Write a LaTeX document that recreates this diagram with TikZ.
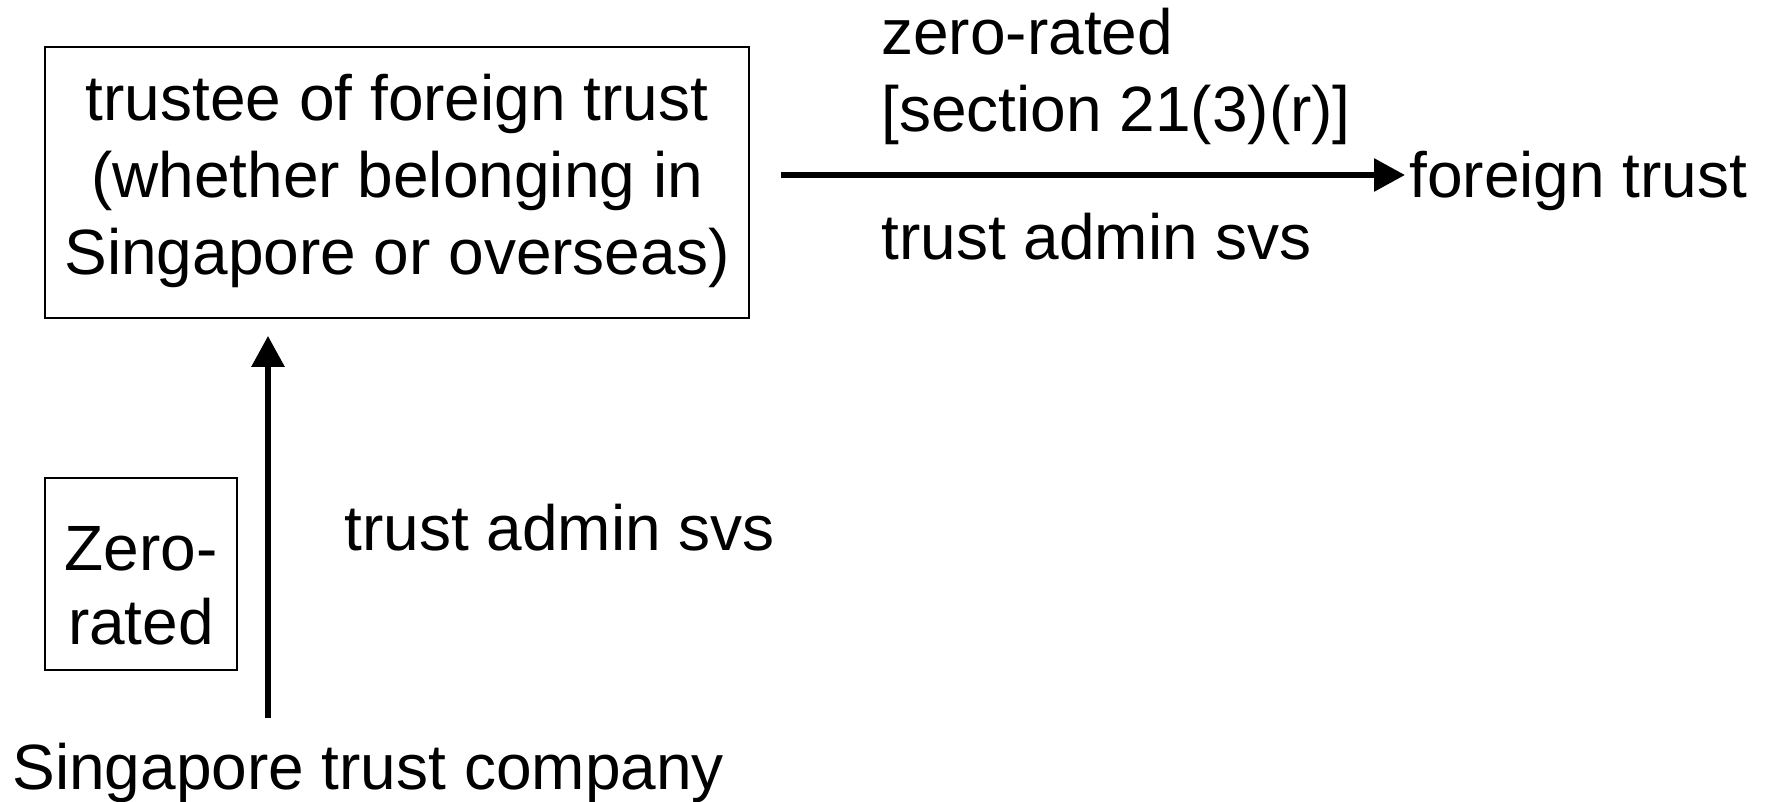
\documentclass[tikz,border=0pt]{standalone}
\usepackage{fontspec}
\setmainfont{Liberation Sans}
\usetikzlibrary{arrows.meta}
\begin{document}
\begin{tikzpicture}[x = 0.5pt, y = -0.5pt,
        font = \fontsize{32}{37}\selectfont,
        frame/.style = {draw, line width = 0.9pt, align = center, inner sep = 0pt},
        tag/.style   = {anchor = base west, inner sep = 0pt, align = left},
        flow/.style  = {line width = 3pt, -{Triangle[length = 15.5pt, width = 16pt]}}]
        \useasboundingbox (0,0) rectangle (1767,802);
        \coordinate (upfoot)    at (268,718);
        \coordinate (rightfoot) at (781,175);
        \node[frame, minimum width = 352pt, minimum height = 135.5pt,
              font = \fontsize{32}{38.5}\selectfont,
              text height = 100.5pt, text depth = 8pt] (trustee) at (397,182.5)
                {trustee of foreign trust\\(whether belonging in\\Singapore or overseas)};
        \node[frame, minimum width = 96pt, minimum height = 96pt,
              text height = 78pt, text depth = 8pt] (zero) at (141,574) {Zero-\\rated};
        \node[tag] (foreign)    at (1409,198) {foreign trust};
        \node[tag] (company)    at (12,789)   {Singapore trust company};
        \node[tag] (ruling)     at (881,132)  {zero-rated\\[1.5pt]{[}section 21(3)(r)]};
        \node[tag] (adminright) at (881,260)  {trust admin svs};
        \node[tag] (adminup)    at (344,550)  {trust admin svs};
        \draw[flow, shorten > = 8.5pt] (upfoot) -- (upfoot |- trustee.south);
        \draw[flow, shorten > = 2pt]   (rightfoot) -- (rightfoot -| foreign.west);
      \end{tikzpicture}
\end{document}
